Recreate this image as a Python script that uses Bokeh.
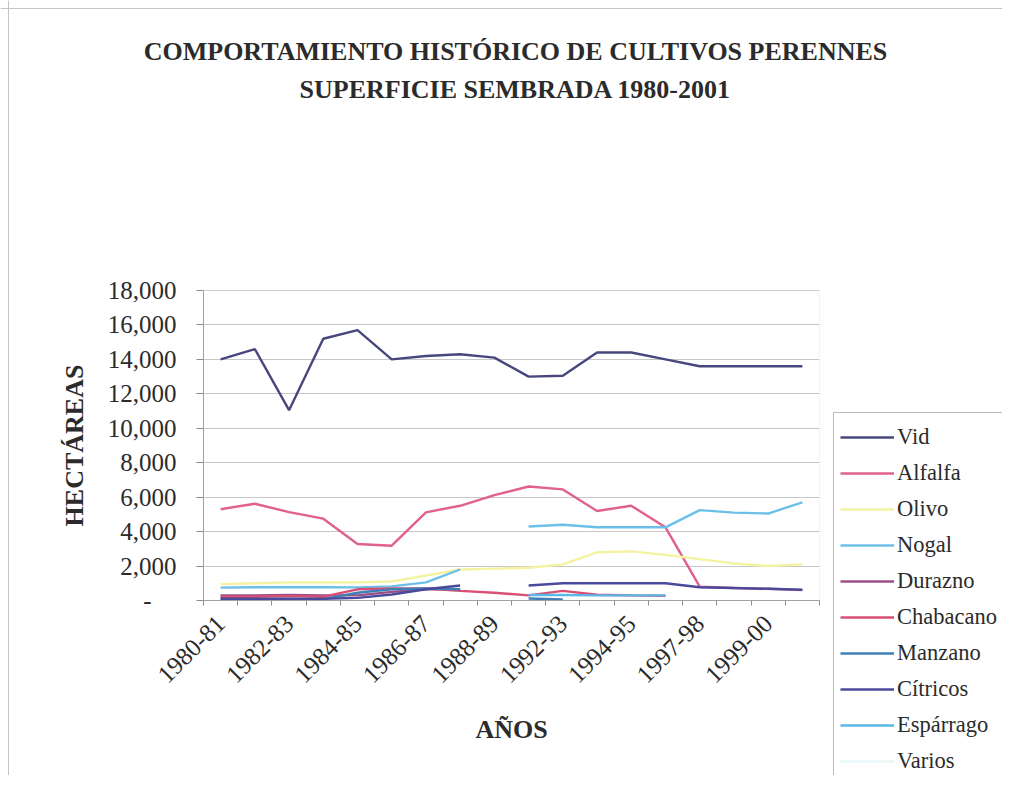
import numpy as np
from math import pi
from bokeh.plotting import figure
from bokeh.models import (FixedTicker, NumeralTickFormatter, Legend, LegendItem, Label,
                          Range1d, Span, BoxAnnotation)
from bokeh.embed import file_html
from bokeh.resources import INLINE

nan = float("nan")

years = ["1980-81", "1981-82", "1982-83", "1983-84", "1984-85", "1985-86",
         "1986-87", "1987-88", "1988-89", "1991-92", "1992-93", "1993-94",
         "1994-95", "1996-97", "1997-98", "1998-99", "1999-00", "2000-01"]

vid = [14000, 14600, 11050, 15200, 15700, 14000, 14200, 14300, 14100,
       13000, 13050, 14400, 14400, 14000, 13600, 13600, 13600, 13600]
alfalfa = [5300, 5620, 5130, 4750, 3280, 3180, 5120, 5500, 6120,
           6620, 6450, 5200, 5500, 4250, 800, 730, 680, 600]
olivo = [950, 1000, 1050, 1050, 1050, 1100, 1450, 1800, 1850,
         1900, 2100, 2800, 2850, 2650, 2400, 2150, 2000, 2100]
nogal = [750, 770, 770, 770, 760, 820, 1050, 1800, nan,
         4300, 4400, 4250, 4250, 4250, 5250, 5100, 5050, 5700]
durazno = [300, 300, 320, 300, 300, 500, 650, 650, nan,
           nan, nan, nan, nan, nan, nan, nan, nan, nan]
chabacano = [220, 220, 260, 220, 650, 700, 700, 560, 450,
             300, 560, 330, 300, 280, nan, nan, nan, nan]
manzano = [80, 80, 80, 80, 450, 650, 700, 650, nan,
           120, 60, nan, nan, nan, nan, nan, nan, nan]
citricos = [100, 100, 100, 100, 150, 350, 650, 870, nan,
            870, 1000, 1000, 1000, 1000, 770, 730, 680, 620]
esparrago = [nan, nan, nan, nan, nan, nan, nan, nan, nan,
             320, 320, 300, 300, 300, nan, nan, nan, nan]
varios = [nan] * 18

series_names = ["Vid", "Alfalfa", "Olivo", "Nogal", "Durazno", "Chabacano",
                "Manzano", "Cítricos", "Espárrago", "Varios"]
series_values = [vid, alfalfa, olivo, nogal, durazno, chabacano,
                 manzano, citricos, esparrago, varios]
series_colors = ["#48477d", "#e0608e", "#f3f3a2", "#6cc0e8", "#9a4f86",
                 "#d94f73", "#3f7fb5", "#4a4a9c", "#59b8e8", "#e8f8f8"]

y_ticks = list(range(0, 18001, 2000))

# ---- layout (pixels) ----
W, H = 1002, 775
PL, PR, PT, PB = 203, 819, 290, 600          # plotting area in canvas pixels
n = len(years)
x_lo, x_hi = -0.5, n - 0.5
y_lo, y_hi = 0, 18000
xpp = (x_hi - x_lo) / (PR - PL)
ypp = (y_hi - y_lo) / (PB - PT)

def dx(sx):
    return x_lo + (sx - PL) * xpp

def dy(sy):
    return y_lo + (PB - sy) * ypp

p = figure(width=W, height=H, output_backend="svg", toolbar_location=None,
           x_range=Range1d(dx(0), dx(W)), y_range=Range1d(dy(H), dy(0)),
           min_border=0, min_border_left=0, min_border_right=0,
           min_border_top=0, min_border_bottom=0)
p.background_fill_color = "white"
p.border_fill_color = "white"
p.outline_line_color = None

# outer chart-area border (top and left edges visible in the reference)
p.add_layout(Span(location=dy(8), dimension="width", line_color="#c4c4c4", line_width=1))
p.add_layout(Span(location=dx(8), dimension="height", line_color="#c4c4c4", line_width=1))
# faint plot-area border
p.add_layout(BoxAnnotation(left=x_lo, right=x_hi, bottom=y_lo, top=y_hi,
                           fill_alpha=0, line_color="#d6d6d6", line_width=1))

x = np.arange(n, dtype=float)
items = []
for name, vals, col in zip(series_names, series_values, series_colors):
    r = p.line(x, np.array(vals, dtype=float), line_color=col, line_width=2.4)
    items.append(LegendItem(label=name, renderers=[r]))

serif = "Liberation Serif"
txt_col = "#2b2b2b"
ax_col = "#8a8a8a"

p.xgrid.visible = False
p.ygrid.grid_line_color = "#c8c8c8"
p.ygrid.grid_line_width = 1
p.ygrid.bounds = (y_lo, y_hi)
try:
    p.ygrid.cross_bounds = (x_lo, x_hi)
except Exception:
    pass

# y axis
p.yaxis.fixed_location = x_lo
p.yaxis.bounds = (y_lo, y_hi)
p.yaxis.ticker = FixedTicker(ticks=y_ticks, minor_ticks=[])
p.yaxis.formatter = NumeralTickFormatter(format="0,0")
p.yaxis.major_label_overrides = {0: "-\u00a0\u00a0\u00a0\u00a0"}
p.yaxis.major_tick_out = 7
p.yaxis.major_tick_in = 0
p.yaxis.minor_tick_out = 0
p.yaxis.major_label_standoff = 20
p.yaxis.major_label_text_font = serif
p.yaxis.major_label_text_font_size = "25px"
p.yaxis.major_label_text_color = txt_col
p.yaxis.axis_line_color = ax_col
p.yaxis.major_tick_line_color = ax_col
p.yaxis.axis_label = "HECTÁREAS"
p.yaxis.axis_label_text_font = serif
p.yaxis.axis_label_text_font_style = "bold"
p.yaxis.axis_label_text_font_size = "26px"
p.yaxis.axis_label_text_color = txt_col
p.yaxis.axis_label_standoff = 16

# x axis
even = list(range(0, n, 2))
p.xaxis.fixed_location = y_lo
p.xaxis.bounds = (x_lo, x_hi)
p.xaxis.ticker = FixedTicker(ticks=even, minor_ticks=[i - 0.5 for i in range(n + 1)])
p.xaxis.major_label_overrides = {i: years[i] for i in even}
p.xaxis.major_tick_out = 0
p.xaxis.major_tick_in = 0
p.xaxis.minor_tick_out = 5
p.xaxis.minor_tick_in = 0
p.xaxis.minor_tick_line_color = ax_col
p.xaxis.axis_line_color = ax_col
p.xaxis.major_label_orientation = pi / 4
p.xaxis.major_label_standoff = 14
p.xaxis.major_label_text_font = serif
p.xaxis.major_label_text_font_size = "25px"
p.xaxis.major_label_text_color = txt_col
p.xaxis.axis_label = "AÑOS"
p.xaxis.axis_label_text_font = serif
p.xaxis.axis_label_text_font_style = "bold"
p.xaxis.axis_label_text_font_size = "26px"
p.xaxis.axis_label_text_color = txt_col
p.xaxis.axis_label_standoff = 22

# title
for txt, sy in [("COMPORTAMIENTO HISTÓRICO DE CULTIVOS PERENNES", 51),
                ("SUPERFICIE SEMBRADA 1980-2001", 89)]:
    p.add_layout(Label(x=dx(515), y=dy(sy), text=txt,
                       text_align="center", text_baseline="middle",
                       text_font=serif, text_font_style="bold",
                       text_font_size="26px", text_color=txt_col))

LEG_TOP, LEG_LEFT, ITEM_H, PAD = 414, 833, 36, 6
leg_h = ITEM_H * len(items) + 2 * PAD
legend = Legend(items=items, location=(LEG_LEFT, H - LEG_TOP - leg_h), orientation="vertical",
                padding=PAD, spacing=0, label_height=ITEM_H, glyph_height=ITEM_H,
                glyph_width=54, label_standoff=3, margin=0,
                border_line_color="#777777", border_line_width=1,
                background_fill_color="white", background_fill_alpha=1,
                label_text_font=serif, label_text_font_size="22.5px",
                label_text_color=txt_col)
p.add_layout(legend, "center")

open("out.html", "w").write(file_html(p, INLINE))
